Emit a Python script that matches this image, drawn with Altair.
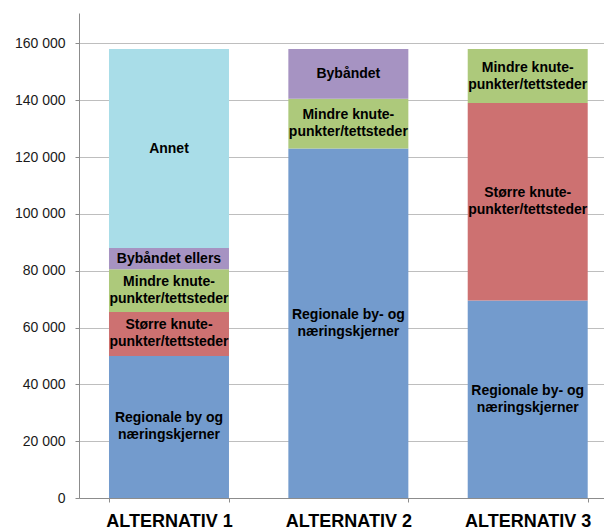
import altair as alt
import pandas as pd

# ---- data ----
alternatives = ["ALTERNATIV 1", "ALTERNATIV 2", "ALTERNATIV 3"]

seg_alt = ["ALTERNATIV 1"] * 5 + ["ALTERNATIV 2"] * 3 + ["ALTERNATIV 3"] * 3
seg_cat = [
    "Regionale", "Større", "Mindre", "Bybåndet ellers", "Annet",
    "Regionale", "Mindre", "Bybåndet",
    "Regionale", "Større", "Mindre",
]
seg_val = [
    50000, 15500, 15000, 7500, 70000,
    123000, 17500, 17500,
    69500, 69500, 19000,
]
seg_label = [
    "Regionale by og\nnæringskjerner", "Større knute-\npunkter/tettsteder",
    "Mindre knute-\npunkter/tettsteder", "Bybåndet ellers", "Annet",
    "Regionale by- og\nnæringskjerner", "Mindre knute-\npunkter/tettsteder", "Bybåndet",
    "Regionale by- og\nnæringskjerner", "Større knute-\npunkter/tettsteder",
    "Mindre knute-\npunkter/tettsteder",
]

cat_domain = ["Regionale", "Større", "Mindre", "Bybåndet ellers", "Bybåndet", "Annet"]
cat_colors = ["#739BCD", "#CD7171", "#ADC97B", "#A693C2", "#A693C2", "#A9DDE8"]

y_ticks = [0, 20000, 40000, 60000, 80000, 100000, 120000, 140000, 160000]

df = pd.DataFrame({"alt": seg_alt, "cat": seg_cat, "val": seg_val, "label": seg_label})
df["order"] = range(len(df))
df["end"] = df.groupby("alt")["val"].cumsum()
df["start"] = df["end"] - df["val"]
df["mid"] = (df["start"] + df["end"]) / 2
df["nlines"] = df["label"].str.count("\n") + 1

FONT = "Liberation Sans"
LH = 17

x_enc = alt.X(
    "alt:N",
    sort=alternatives,
    scale=alt.Scale(paddingInner=0.331, paddingOuter=0.129, align=0.648),
    axis=alt.Axis(
        title=None, labelAngle=0, labelFont=FONT, labelFontSize=18,
        labelFontWeight="bold", labelColor="#000000", labelPadding=10,
        domainColor="#8C8C8C", tickColor="#8C8C8C", tickSize=4,
        tickBand="extent", grid=False,
    ),
)
y_scale = alt.Scale(domain=[0, 170700], nice=False)

bars = alt.Chart(df).mark_bar(opacity=1).encode(
    x=x_enc,
    y=alt.Y(
        "start:Q", scale=y_scale,
        axis=alt.Axis(
            title=None, values=y_ticks,
            labelExpr="datum.value == 0 ? '0' : format(datum.value / 1000, 'd') + ' 000'",
            labelFont=FONT, labelFontSize=14, labelColor="#1A1A1A", labelPadding=10,
            gridColor="#BEBEBE", domainColor="#8C8C8C", tickColor="#8C8C8C", tickSize=4,
        ),
    ),
    y2="end:Q",
    color=alt.Color("cat:N", scale=alt.Scale(domain=cat_domain, range=cat_colors), legend=None),
    order="order:Q",
)


def text_layer(n, dy):
    return alt.Chart(df).transform_filter(f"datum.nlines == {n}").mark_text(
        font=FONT, fontSize=14, fontWeight="bold", color="#000000",
        lineBreak="\n", lineHeight=LH, baseline="middle", align="center", dy=dy,
    ).encode(
        x=alt.X("alt:N", sort=alternatives),
        y=alt.Y("mid:Q", scale=y_scale),
        text="label:N",
    )


labels1 = text_layer(1, 0)
labels2 = text_layer(2, -LH / 2)

chart = (
    alt.layer(bars, labels1, labels2)
    .properties(
        width=525, height=485,
        autosize=alt.AutoSizeParams(type="none"),
        padding={"left": 79, "top": 13, "right": 0, "bottom": 32},
        background="white",
    )
    .configure_view(stroke=None)
)

chart.save("out.html", embed_options={"renderer": "svg", "actions": False})
